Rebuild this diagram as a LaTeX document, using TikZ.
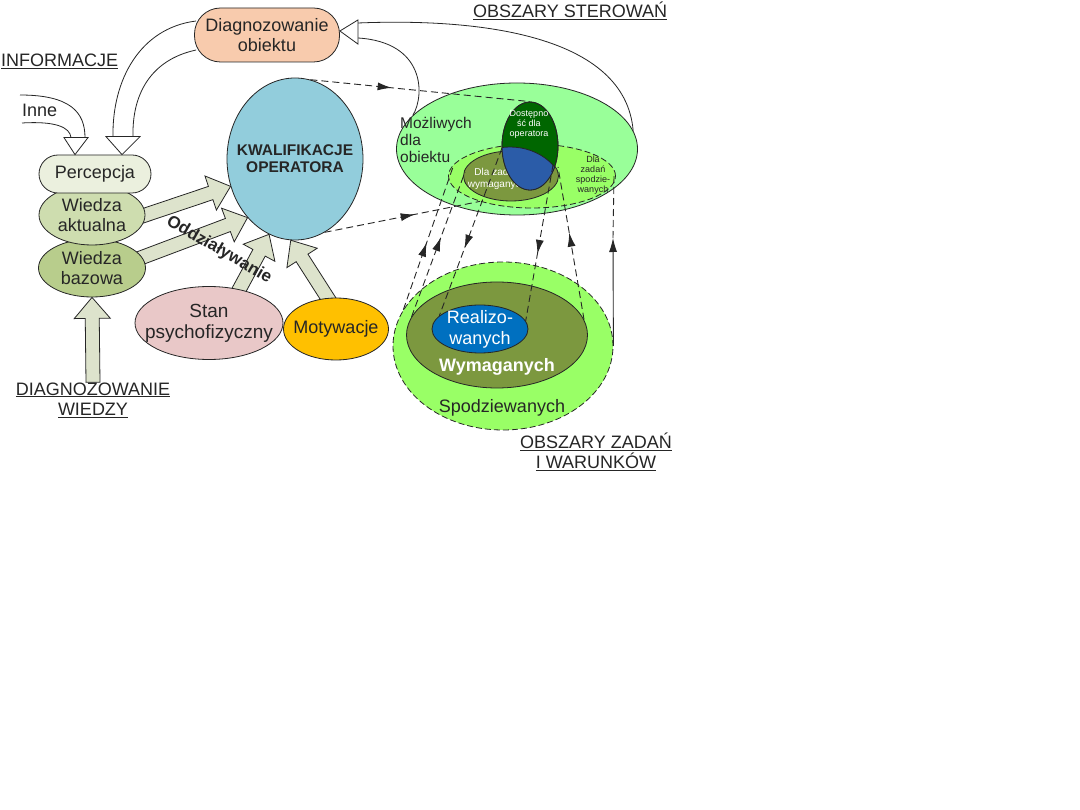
\documentclass[tikz,border=0pt]{standalone}
\usepackage{fontspec}
\setmainfont{Liberation Sans}
\usetikzlibrary{shapes.geometric,arrows.meta,calc,decorations.markings,backgrounds}

\definecolor{ink}{HTML}{262626}
\definecolor{peach}{HTML}{F8CBAD}
\definecolor{percfill}{HTML}{EBF0DE}
\definecolor{aktfill}{HTML}{CEDDAF}
\definecolor{bazfill}{HTML}{B8CD8C}
\definecolor{kwalfill}{HTML}{92CDDC}
\definecolor{stanfill}{HTML}{E9C8C8}
\definecolor{motfill}{HTML}{FFC000}
\definecolor{flowfill}{HTML}{DDE3CC}
\definecolor{mozfill}{HTML}{99FF99}
\definecolor{spofill}{HTML}{99FF66}
\definecolor{wymfill}{HTML}{7C983F}
\definecolor{dosfill}{HTML}{006600}
\definecolor{cutfill}{HTML}{2B5CA8}
\definecolor{realfill}{HTML}{0070C0}

\newcommand{\flowarrow}[3][6pt]{%
  \coordinate (fa-s) at ($#2!-#1!#3$);
  \coordinate (fa-e) at #3;
  \coordinate (fa-h) at ($(fa-e)!21pt!(fa-s)$);
  \draw[flow] ($(fa-s)!7pt!90:(fa-e)$) -- ($(fa-h)!7pt!90:(fa-e)$)
    -- ($(fa-h)!18pt!90:(fa-e)$) -- (fa-e)
    -- ($(fa-h)!18pt!-90:(fa-e)$) -- ($(fa-h)!7pt!-90:(fa-e)$)
    -- ($(fa-s)!7pt!-90:(fa-e)$) -- cycle;}

\tikzset{
  lbl/.style={font=\fontsize{18}{20.5}\selectfont, align=center, text=ink, inner sep=0pt},
  small/.style={font=\fontsize{9}{10}\selectfont, align=center, inner sep=0pt},
  oval/.style={ellipse, draw=ink, line width=0.8pt, inner sep=0pt},
  pill/.style={rectangle, rounded corners=#1, draw=ink, line width=0.8pt, inner sep=0pt, lbl},
  flow/.style={draw=ink, fill=flowfill, line width=0.8pt},
  hollow/.style={draw=ink, line width=0.8pt},
  zone/.style={oval, dash pattern=on 6pt off 3pt},
  conn/.style={draw=ink, line width=0.9pt, dash pattern=on 7pt off 4pt},
  midarrow/.style={postaction={decorate}, decoration={markings,
    mark=at position #1 with {\arrow{Latex[length=14pt,width=8pt]}}}}
}

\begin{document}
\begin{tikzpicture}[x=1pt,y=-1pt]
\begin{scope}[on background layer]
\fill[white] (0,0) rectangle (1080,810);
\end{scope}
\useasboundingbox (0,0) rectangle (1080,810);

% left side
\node[pill=26pt, fill=peach, minimum width=145pt, minimum height=54pt] (diag) at (267,35) {Diagnozowanie\\obiektu};
\node[oval, fill=bazfill, minimum width=107pt, minimum height=58pt, label={[lbl]center:Wiedza\\bazowa}] (wb) at (92,268) {};
\node[oval, fill=aktfill, minimum width=106pt, minimum height=60pt, label={[lbl]center:Wiedza\\aktualna}] (wa) at (92,215) {};
\node[pill=19pt, fill=percfill, minimum width=112pt, minimum height=38pt] (perc) at (95,174) {Percepcja};
\node[oval, fill=kwalfill, minimum width=136pt, minimum height=162pt, label={[lbl, font=\fontsize{15.5}{17}\selectfont\bfseries]center:KWALIFIKACJE\\OPERATORA}] (kw) at (295,159) {};
\node[oval, fill=stanfill, minimum width=148pt, minimum height=73pt, label={[lbl, font=\fontsize{19}{21}\selectfont]center:Stan\\psychofizyczny}] (stan) at (209,323) {};
\node[oval, fill=motfill, minimum width=105pt, minimum height=62pt, label={[lbl]center:Motywacje}] (mot) at (336,329) {};

\node[lbl, anchor=base west] (info) at (1,66.5) {\underline{INFORMACJE}};
\node[lbl, anchor=base west] (inne) at (22,117) {Inne};
\node[lbl] (dw) at (93,400) {\underline{DIAGNOZOWANIE}\\\underline{WIEDZY}};
\node[lbl, font=\fontsize{17}{20}\selectfont\bfseries, rotate=-30] (odd) at (219,250) {Oddziaływanie};

\begin{scope}[on background layer]
\flowarrow{(wa.east)}{(kw.203)}
\flowarrow{(wb.12)}{(kw.231)}
\flowarrow{(stan.48)}{(kw.251)}
\flowarrow{(mot.105)}{(kw.267)}
\flowarrow[0pt]{(dw.north)}{(wb.south)}
\end{scope}

% hollow arrows into Percepcja
\coordinate (d1) at ($(diag.west)+(2,-14)$);
\coordinate (d2) at ($(diag.west)+(2,15)$);
\coordinate (dtip) at ($(perc.north)+(27,0)$);
\draw[hollow] (d1) .. controls (140,28) and (112,80) .. ($(dtip)+(-9,-18)$);
\draw[hollow] (d2) .. controls (150,60) and (132,95) .. ($(dtip)+(11,-18)$);
\draw[hollow, fill=white] ($(dtip)+(-16,-18)$) -- (dtip) -- ($(dtip)+(18,-18)$) -- cycle;

\coordinate (i1) at (20,95);
\coordinate (i2) at (22,123);
\coordinate (itip) at ($(perc.north)+(-20,0)$);
\draw[hollow] (i1) .. controls (70,95) and (85,112) .. ($(itip)+(10,-17)$);
\draw[hollow] (i2) .. controls (55,121) and (70,127) .. ($(itip)+(-4,-17)$);
\draw[hollow, fill=white] ($(itip)+(-11,-17)$) -- (itip) -- ($(itip)+(13,-17)$) -- cycle;

% obszary sterowan
\node[oval, fill=mozfill, minimum width=241pt, minimum height=132pt] (mog) at (517,149) {};
\node[zone, fill=spofill, minimum width=167pt, minimum height=64pt] (spo) at (532,176) {};
\node[small, text=ink] (spot) at (593,175) {Dla\\zadań\\spodzie-\\wanych};
\node[lbl, font=\fontsize{15.5}{17}\selectfont, align=left, anchor=north west] (mogt) at (400,117) {Możliwych\\dla\\obiektu};
\node[oval, fill=wymfill, minimum width=95pt, minimum height=50pt] (wym) at (511,176) {};
\node[small, font=\fontsize{10}{12}\selectfont, text=white] (wymt) at (497,179) {Dla zadań\\wymaganych};
\node[oval, fill=dosfill, minimum width=56pt, minimum height=88pt] (dos) at (530,146) {};
\begin{scope}
\clip (dos.center) ellipse [x radius=28, y radius=44];
\filldraw[fill=cutfill, draw=ink, line width=0.8pt] (510,195) ellipse [x radius=55, y radius=48];
\end{scope}
\draw[ink, line width=0.8pt] (dos.center) ellipse [x radius=28, y radius=44];
\node[small, text=white] (dost) at (529,124) {Dostępno\\ść dla\\operatora};

\coordinate (rtip) at ($(diag.east)+(0,-4)$);
\draw[hollow] (mog.9) .. controls (625,35) and (480,18) .. ($(rtip)+(18,-8)$);
\draw[hollow] (mog.162) .. controls (425,95) and (425,42) .. ($(rtip)+(18,7)$);
\draw[hollow, fill=white] ($(rtip)+(18,-11)$) -- (rtip) -- ($(rtip)+(18,13)$) -- cycle;

% obszary zadan
\node[zone, fill=spofill, minimum width=220pt, minimum height=168pt] (bspo) at (503,346) {};
\node[oval, fill=wymfill, minimum width=181pt, minimum height=106pt] (bwym) at (497,335) {};
\node[oval, fill=realfill, minimum width=96pt, minimum height=48pt, label={[lbl, text=white, font=\fontsize{18}{21}\selectfont]center:Realizo-\\wanych}] (real) at (480,329) {};
\node[lbl, anchor=base, text=white, font=\fontsize{18}{20}\selectfont\bfseries] (bwymt) at (497,372) {Wymaganych};
\node[lbl, anchor=base] (bspot) at (502,413) {Spodziewanych};

\node[lbl, anchor=base west] (ster) at (473,18) {\underline{OBSZARY STEROWAŃ}};
\node[lbl] (zad) at (596,452) {\underline{OBSZARY ZADAŃ}\\\underline{I WARUNKÓW}};

% connectors
\draw[conn, midarrow=0.37] (kw.79) -- (dos.north);
\draw[conn, midarrow=0.58] (kw.292) -- (spo.206);

\coordinate (t1) at (453,167);
\coordinate (t2) at (465,172);
\coordinate (t3) at (502,148);
\coordinate (t4) at (553,165);
\coordinate (t5) at (558,167);
\coordinate (t6) at (614,176);
\coordinate (c6) at (613,238);
\draw[conn, midarrow=0.47] (bspo.160) -- (t1);
\draw[conn, midarrow=0.55] (bwym.168) -- (t2);
\draw[conn, midarrow=0.60] (t3) -- (real.162);
\draw[conn, midarrow=0.57] (t4) -- (real.10);
\draw[conn, midarrow=0.57] (bwym.10) -- (t5);
\draw[ink, line width=0.9pt, -{Latex[length=14pt,width=8pt]}] (bspo.east) -- (c6);
\draw[conn] (c6) -- (t6);
\end{tikzpicture}
\end{document}
